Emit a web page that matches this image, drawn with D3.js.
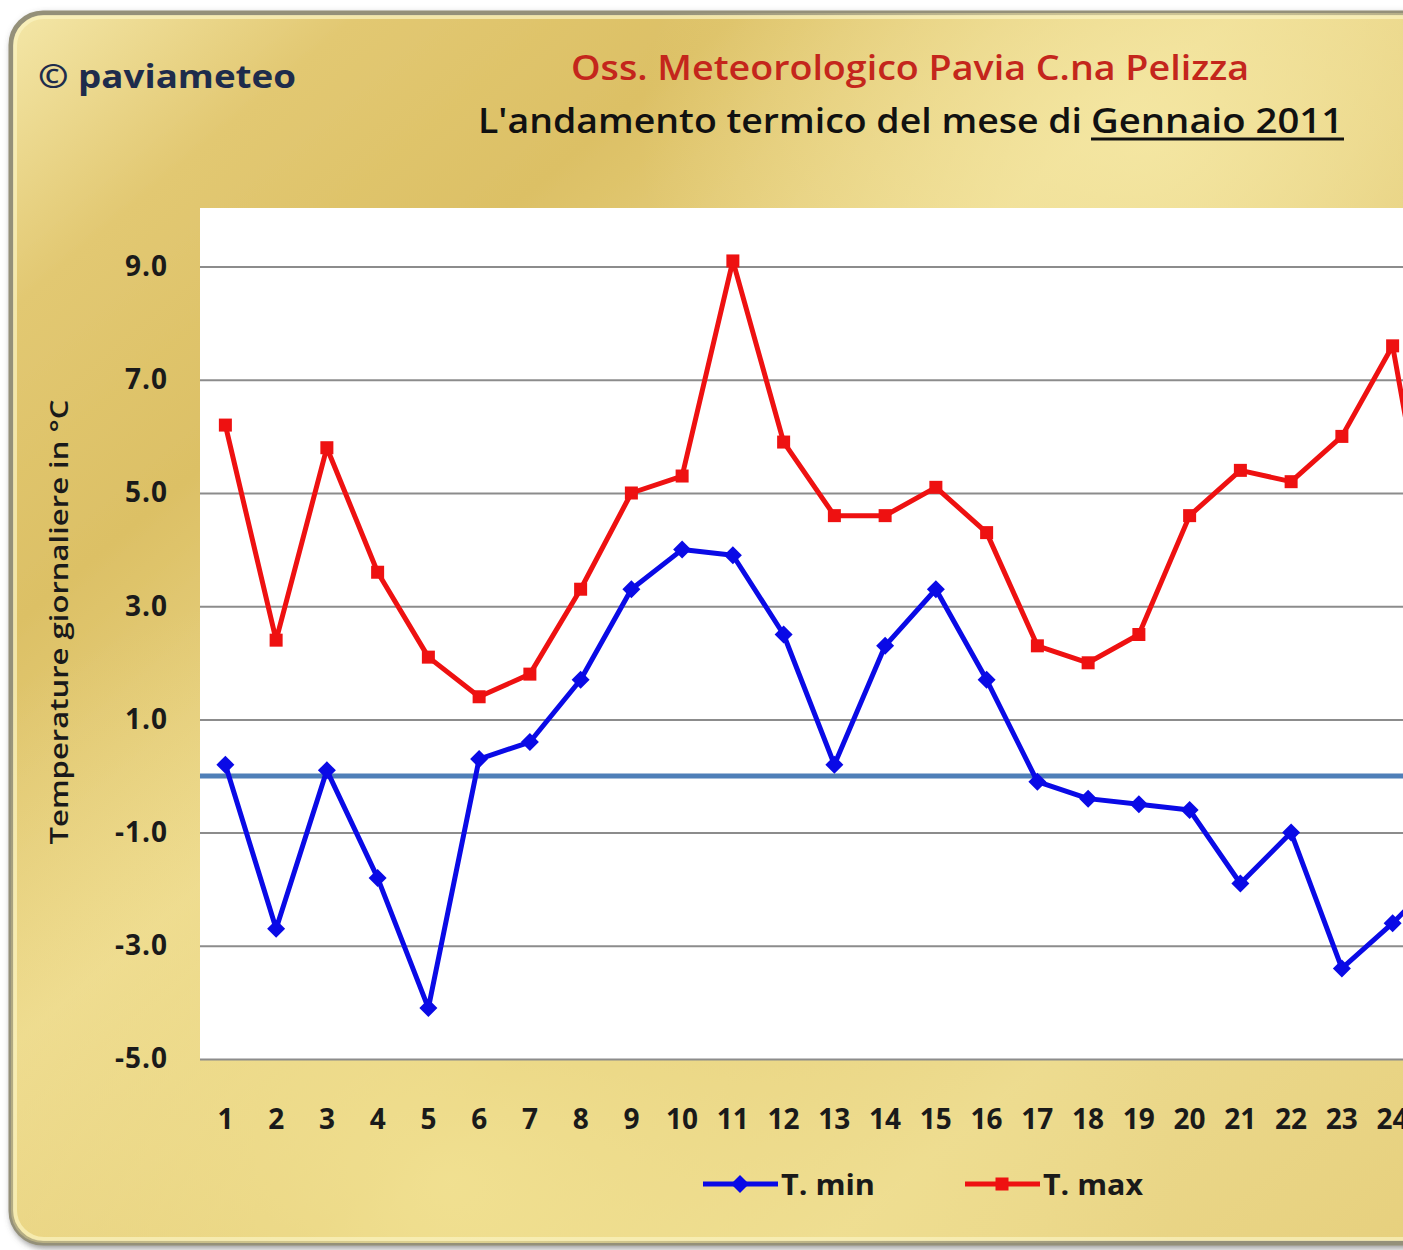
<!DOCTYPE html>
<html>
<head>
<meta charset="utf-8">
<script src="https://cdn.jsdelivr.net/npm/d3@7"></script>
<style>
html,body{margin:0;padding:0;background:#fff;overflow:hidden;}
svg{display:block;}
</style>
</head>
<body>
<script>
// ---- data ----
const days = d3.range(1, 32).map(String);
const shownDays = d3.range(1, 25).map(String);
const tMin = [0.2, -2.7, 0.1, -1.8, -4.1, 0.3, 0.6, 1.7, 3.3, 4.0, 3.9, 2.5, 0.2, 2.3, 3.3, 1.7, -0.1, -0.4, -0.5, -0.6, -1.9, -1.0, -3.4, -2.6, -1.7];
const tMax = [6.2, 2.4, 5.8, 3.6, 2.1, 1.4, 1.8, 3.3, 5.0, 5.3, 9.1, 5.9, 4.6, 4.6, 5.1, 4.3, 2.3, 2.0, 2.5, 4.6, 5.4, 5.2, 6.0, 7.6, 2.6];
const yTicks = [-5, -3, -1, 1, 3, 5, 7, 9];
const seriesNames = ["T. min", "T. max"];
const titleLine1 = "Oss. Meteorologico Pavia C.na Pelizza";
const titleLine2a = "L'andamento termico del mese di ";
const titleLine2b = "Gennaio 2011";
const copyright = "© paviameteo";
const yTitle = "Temperature giornaliere in °C";

(function () {
const W = 1403, H = 1250;
const svg = d3.select("body").append("svg").attr("width", W).attr("height", H);
const defs = svg.append("defs");

const g1 = defs.append("linearGradient").attr("id", "gold").attr("x1", "0").attr("y1", "0").attr("x2", "1").attr("y2", "1");
[[0, "#f4e7a8"], [0.12, "#e2c872"], [0.25, "#dcc065"], [0.42, "#ecd88c"], [0.6, "#dfc46c"], [0.78, "#ecda8e"], [1, "#e6cf7c"]]
  .forEach(([o, c]) => g1.append("stop").attr("offset", o).attr("stop-color", c));
const g2 = defs.append("radialGradient").attr("id", "glow").attr("cx", "0.78").attr("cy", "0.1").attr("r", "0.35");
g2.append("stop").attr("offset", 0).attr("stop-color", "#f6eaa8").attr("stop-opacity", 0.8);
g2.append("stop").attr("offset", 1).attr("stop-color", "#f6eaa8").attr("stop-opacity", 0);
const g3 = defs.append("radialGradient").attr("id", "glow2").attr("cx", "0.3").attr("cy", "0.95").attr("r", "0.5");
g3.append("stop").attr("offset", 0).attr("stop-color", "#f3e496").attr("stop-opacity", 0.85);
g3.append("stop").attr("offset", 1).attr("stop-color", "#f3e496").attr("stop-opacity", 0);
const f = defs.append("filter").attr("id", "shadow").attr("x", "-5%").attr("y", "-5%").attr("width", "110%").attr("height", "110%");
f.append("feDropShadow").attr("dx", 2).attr("dy", 3).attr("stdDeviation", 3).attr("flood-color", "#555").attr("flood-opacity", 0.6);

// frame
const fx = 11, fy = 13, fw = 1460, fh = 1230;
svg.append("rect").attr("x", fx).attr("y", fy).attr("width", fw).attr("height", fh).attr("rx", 32)
  .attr("fill", "url(#gold)").attr("stroke", "#949079").attr("stroke-width", 5).attr("filter", "url(#shadow)");
svg.append("rect").attr("x", fx).attr("y", fy).attr("width", fw).attr("height", fh).attr("rx", 32).attr("fill", "url(#glow)");
svg.append("rect").attr("x", fx).attr("y", fy).attr("width", fw).attr("height", fh).attr("rx", 32).attr("fill", "url(#glow2)");
svg.append("rect").attr("x", fx + 4).attr("y", fy + 4).attr("width", fw - 8).attr("height", fh - 8).attr("rx", 29)
  .attr("fill", "none").attr("stroke", "#fbf3c0").attr("stroke-width", 4).attr("opacity", 0.7);

// titles
svg.append("text").attr("x", 38).attr("y", 88).attr("font-family", "Open Sans").attr("font-weight", 700)
  .attr("font-size", 33).attr("fill", "#1e2c4c").attr("textLength", 258).attr("lengthAdjust", "spacingAndGlyphs").text(copyright);
svg.append("text").attr("x", 571).attr("y", 80).attr("font-family", "Open Sans").attr("font-weight", 600)
  .attr("font-size", 35).attr("fill", "#c4261c").attr("textLength", 678).attr("lengthAdjust", "spacingAndGlyphs").text(titleLine1);
svg.append("text").attr("x", 478).attr("y", 133).attr("font-family", "Open Sans").attr("font-weight", 600)
  .attr("font-size", 35).attr("fill", "#111").attr("textLength", 604).attr("lengthAdjust", "spacingAndGlyphs").text(titleLine2a);
svg.append("text").attr("x", 1091).attr("y", 133).attr("font-family", "Open Sans").attr("font-weight", 600)
  .attr("font-size", 35).attr("fill", "#111").attr("textLength", 252).attr("lengthAdjust", "spacingAndGlyphs").text(titleLine2b);
svg.append("line").attr("x1", 1091).attr("x2", 1344).attr("y1", 139).attr("y2", 139).attr("stroke", "#111").attr("stroke-width", 3);

// scales
const pLeft = 200, pTop = 210, pBottom = 1059;
const bandW = 50.75;
const x = d3.scaleBand().domain(days).range([pLeft, pLeft + bandW * days.length]).padding(0);
const y = d3.scaleLinear().domain([-5, 10]).range([pBottom, pTop]);
const cx = (i) => x(days[i]) + x.bandwidth() / 2;
const pRight = x.range()[1];

// plot area
svg.append("rect").attr("x", pLeft).attr("y", y(10) - 2).attr("width", pRight - pLeft).attr("height", pBottom - y(10) + 2).attr("fill", "#fff");

// y axis + grid
const yAxis = svg.append("g").attr("transform", `translate(${pLeft},0)`)
  .call(d3.axisLeft(y).tickValues(yTicks).tickFormat(d => d.toFixed(1)).tickSize(-(pRight - pLeft)).tickPadding(32));
yAxis.select(".domain").remove();
yAxis.selectAll(".tick line").attr("stroke", "#8c8c8c").attr("stroke-width", 2);
yAxis.selectAll(".tick text").attr("font-family", "Open Sans").attr("font-weight", 700).attr("font-size", 28)
  .attr("letter-spacing", 1).attr("fill", "#1a1a1a");

// zero line
svg.append("line").attr("x1", pLeft).attr("x2", pRight).attr("y1", y(0)).attr("y2", y(0))
  .attr("stroke", "#4f7fb8").attr("stroke-width", 5);

// x axis
const xAxis = svg.append("g").attr("transform", `translate(0,${pBottom})`)
  .call(d3.axisBottom(x).tickValues(shownDays).tickSize(0).tickPadding(50));
xAxis.select(".domain").remove();
xAxis.selectAll(".tick text").attr("font-family", "Open Sans").attr("font-weight", 700).attr("font-size", 28).attr("fill", "#1a1a1a");

// y title
svg.append("text").attr("transform", `translate(68,622) rotate(-90)`).attr("text-anchor", "middle")
  .attr("font-family", "Open Sans").attr("font-weight", 600).attr("font-size", 26).attr("fill", "#1a1a1a")
  .attr("textLength", 445).attr("lengthAdjust", "spacingAndGlyphs").text(yTitle);

// series
const line = d3.line().x((d, i) => cx(i)).y(d => y(d));
const minColor = "#0a0ae6", maxColor = "#ee1111";
svg.append("path").datum(tMax).attr("d", line).attr("fill", "none").attr("stroke", maxColor).attr("stroke-width", 5).attr("stroke-linejoin", "round");
svg.append("path").datum(tMin).attr("d", line).attr("fill", "none").attr("stroke", minColor).attr("stroke-width", 5).attr("stroke-linejoin", "round");
const sq = 13, dm = 9;
svg.append("g").selectAll("rect").data(tMax).join("rect")
  .attr("x", (d, i) => cx(i) - sq / 2).attr("y", d => y(d) - sq / 2).attr("width", sq).attr("height", sq).attr("fill", maxColor);
svg.append("g").selectAll("path").data(tMin).join("path")
  .attr("d", (d, i) => { const X = cx(i), Y = y(d); return `M${X},${Y - dm}L${X + dm},${Y}L${X},${Y + dm}L${X - dm},${Y}Z`; })
  .attr("fill", minColor);

// legend
const leg = svg.append("g");
const legItems = [
  { name: seriesNames[0], color: minColor, x0: 703, shape: "d", len: 94 },
  { name: seriesNames[1], color: maxColor, x0: 965, shape: "s", len: 100 }
];
legItems.forEach(it => {
  const ly = 1184;
  leg.append("line").attr("x1", it.x0).attr("x2", it.x0 + 75).attr("y1", ly).attr("y2", ly).attr("stroke", it.color).attr("stroke-width", 5);
  const mx = it.x0 + 37;
  if (it.shape === "d") leg.append("path").attr("d", `M${mx},${ly - dm}L${mx + dm},${ly}L${mx},${ly + dm}L${mx - dm},${ly}Z`).attr("fill", it.color);
  else leg.append("rect").attr("x", mx - sq / 2).attr("y", ly - sq / 2).attr("width", sq).attr("height", sq).attr("fill", it.color);
  leg.append("text").attr("x", it.x0 + 78).attr("y", ly + 11).attr("font-family", "Open Sans").attr("font-weight", 700)
    .attr("font-size", 28).attr("fill", "#1a1a1a").attr("textLength", it.len).attr("lengthAdjust", "spacingAndGlyphs").text(it.name);
});
})();
</script>
</body>
</html>
